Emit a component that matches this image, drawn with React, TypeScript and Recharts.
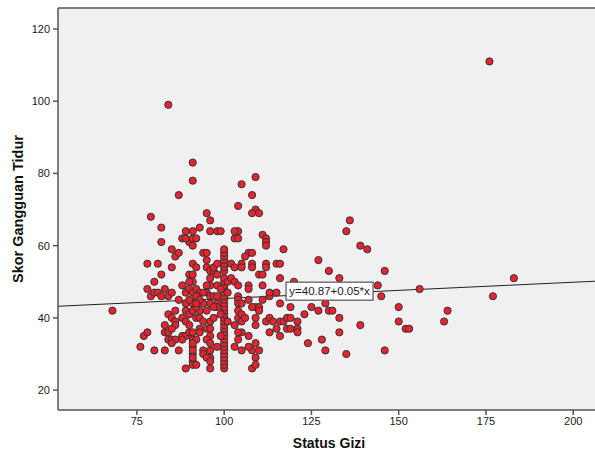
import { ScatterChart, Scatter, XAxis, YAxis, CartesianGrid, ReferenceLine, ReferenceDot } from 'recharts';

// Status Gizi (x) vs Skor Gangguan Tidur (y)
const lowGizi: [number, number][] = [
  [68, 42], [76, 32], [77, 35], [78, 36], [80, 31], [83, 31], [87, 31], [79, 68], [82, 65], [82, 61],
  [87, 74], [85, 59], [86, 57], [87, 58], [78, 55], [81, 55], [85, 54], [82, 52], [80, 50], [78, 48],
  [83, 48], [79, 46], [80, 47], [81, 47], [82, 46], [84, 46], [85, 47], [87, 45], [84, 41], [85, 40],
  [86, 42], [86, 39], [83, 38], [86, 38], [83, 36], [84, 36], [85, 37], [84, 34], [85, 34], [86, 34],
  [85, 33], [84, 99],
];

const midGizi: [number, number][] = [
  [88, 62], [89, 64], [90, 61], [91, 62], [92, 62], [91, 60], [93, 65], [95, 69], [96, 67], [96, 64],
  [98, 64], [91, 83], [91, 78], [94, 58], [95, 58], [91, 55], [92, 54], [90, 52], [91, 52], [91, 50],
  [90, 50], [95, 56], [95, 54], [96, 53], [97, 53], [96, 51], [96, 49], [88, 49], [89, 47], [90, 48],
  [91, 47], [92, 48], [93, 47], [89, 44], [91, 44], [92, 46], [90, 45], [95, 49], [95, 47], [96, 46],
  [97, 46], [98, 44], [96, 44], [88, 40], [89, 42], [90, 41], [91, 42], [92, 40], [89, 39], [90, 38],
  [88, 35], [89, 35], [90, 36], [93, 40], [94, 39], [93, 37], [95, 37], [96, 39], [96, 35], [95, 34],
  [96, 31], [94, 31], [96, 29], [96, 26], [88, 34], [91, 34], [91, 32], [91, 30], [91, 28], [91, 27],
  [92, 27], [89, 26], [94, 30], [95, 29], [98, 32], [93, 36], [92, 34], [98, 43], [98, 46], [98, 49],
  [98, 52], [97, 54], [98, 55], [99, 64], [91, 64], [89, 62], [91, 36], [97, 40], [94, 44], [93, 42],
  [92, 43], [93, 45], [94, 47], [97, 43], [95, 42], [92, 44], [91, 29], [91, 31], [91, 33], [96, 33],
  [96, 28], [96, 37],
];

const col100: [number, number][] = [
  [100, 26], [100, 27], [100, 28], [100, 29], [100, 30], [100, 31], [100, 32], [100, 33], [100, 34],
  [100, 35], [100, 36], [100, 37], [100, 38], [100, 39], [100, 40], [100, 41], [100, 42], [100, 43],
  [100, 44], [100, 45], [100, 46], [100, 47], [100, 48], [100, 49], [100, 50], [100, 51], [100, 53],
  [100, 54], [100, 55], [100, 56], [100, 57], [100, 58], [100, 59],
  [99, 48], [101, 50], [101, 47], [99, 41], [101, 39], [99, 35],
];

const highGizi: [number, number][] = [
  [102, 55], [103, 54], [105, 55], [105, 54], [107, 58], [108, 58], [106, 57], [108, 55], [108, 54], [112, 55],
  [112, 54], [115, 55], [116, 55], [110, 52], [111, 52], [116, 51], [102, 51], [103, 50], [104, 49], [107, 49],
  [107, 48], [111, 49], [120, 50], [104, 46], [104, 45], [104, 44], [104, 42], [104, 40], [105, 44], [105, 41],
  [105, 39], [105, 36], [106, 40], [107, 45], [109, 43], [110, 43], [110, 42], [111, 45], [113, 46], [113, 47],
  [115, 47], [116, 44], [119, 43], [112, 39], [113, 40], [114, 39], [116, 39], [117, 39], [118, 40], [119, 40],
  [113, 36], [115, 37], [116, 35], [121, 39], [121, 37], [121, 36], [123, 41], [124, 33], [109, 40], [109, 38],
  [103, 38], [104, 36], [104, 34], [103, 32], [107, 35], [109, 33], [108, 31], [110, 31], [109, 29], [105, 31],
  [108, 26], [119, 46], [122, 47], [108, 43], [107, 32], [109, 27], [117, 59], [111, 63], [112, 62], [112, 61],
  [112, 60], [104, 64], [103, 62], [104, 62], [109, 79], [105, 77], [108, 74], [104, 71], [109, 70], [108, 69],
  [110, 69], [103, 64], [118, 37], [119, 37],
];

const farGizi: [number, number][] = [
  [125, 43], [127, 42], [130, 42], [131, 42], [129, 44], [127, 56], [130, 53], [133, 51], [135, 64], [136, 67],
  [139, 60], [141, 59], [146, 53], [144, 49], [145, 46], [150, 43], [164, 42], [163, 39], [150, 39], [152, 37],
  [153, 37], [146, 31], [139, 38], [133, 40], [133, 36], [135, 30], [128, 34], [129, 31], [156, 48], [176, 111],
  [183, 51], [177, 46],
];

const xTicks = [75, 100, 125, 150, 175, 200];
const yTicks = [20, 40, 60, 80, 100, 120];

// fit line as printed on the chart
const intercept = 40.87;
const slope = 0.045;
const fitLabel = 'y=40.87+0.05*x';

const xDomain: [number, number] = [52.4, 213.4];
const yDomain: [number, number] = [14.5, 125.8];

const points = [...lowGizi, ...midGizi, ...col100, ...highGizi, ...farGizi].map(([x, y]) => ({ x, y }));

const font = '"Liberation Sans", Arial, sans-serif';
const frame = '#555';

const Dot = (p: any) => (
  <circle cx={p.cx} cy={p.cy} r={3.6} fill="#e8232e" stroke="#333" strokeWidth={1} />
);

const FitBox = (p: any) => (
  <g>
    <rect x={p.cx - 43.5} y={p.cy - 9} width={87} height={18} fill="#fff" stroke="#555" strokeWidth={1.2} />
    <text x={p.cx} y={p.cy + 4} textAnchor="middle" fontSize={11.5} fontFamily={font} fill="#222">{fitLabel}</text>
  </g>
);

export default function App() {
  return (
    <div style={{ position: 'absolute', left: 0, top: 0, width: 595, height: 452, overflow: 'hidden', background: '#fff' }}>
      <ScatterChart width={640} height={452} margin={{ top: 8, right: 20, bottom: 0, left: 0 }}>
        <CartesianGrid fill="#f0f0f0" horizontal={false} vertical={false} />
        <XAxis
          type="number"
          dataKey="x"
          domain={xDomain}
          ticks={xTicks}
          allowDataOverflow
          height={42}
          tickSize={5}
          tickMargin={2}
          stroke={frame}
          strokeWidth={1.5}
          tick={{ fill: '#222', fontSize: 11, fontFamily: font }}
          label={{ value: 'Status Gizi', position: 'insideBottom', offset: 4, dx: -10, fill: '#111', fontSize: 14, fontWeight: 'bold', fontFamily: font }}
        />
        <YAxis
          type="number"
          dataKey="y"
          domain={yDomain}
          ticks={yTicks}
          allowDataOverflow
          width={58}
          tickSize={5}
          tickMargin={3}
          stroke={frame}
          strokeWidth={1.5}
          tick={{ fill: '#222', fontSize: 11, fontFamily: font }}
          label={{ value: 'Skor Gangguan Tidur', angle: -90, position: 'center', dx: -11, fill: '#111', fontSize: 14.5, fontWeight: 'bold', fontFamily: font }}
        />
        <ReferenceLine y={yDomain[1]} stroke={frame} strokeWidth={1.5} ifOverflow="visible" />
        <Scatter data={points} shape={Dot} isAnimationActive={false} />
        <ReferenceLine
          segment={[
            { x: xDomain[0], y: intercept + slope * xDomain[0] },
            { x: xDomain[1], y: intercept + slope * xDomain[1] },
          ]}
          stroke="#222"
          strokeWidth={1}
          ifOverflow="visible"
        />
        <ReferenceDot x={130.2} y={47.4} shape={FitBox} ifOverflow="visible" />
      </ScatterChart>
    </div>
  );
}
